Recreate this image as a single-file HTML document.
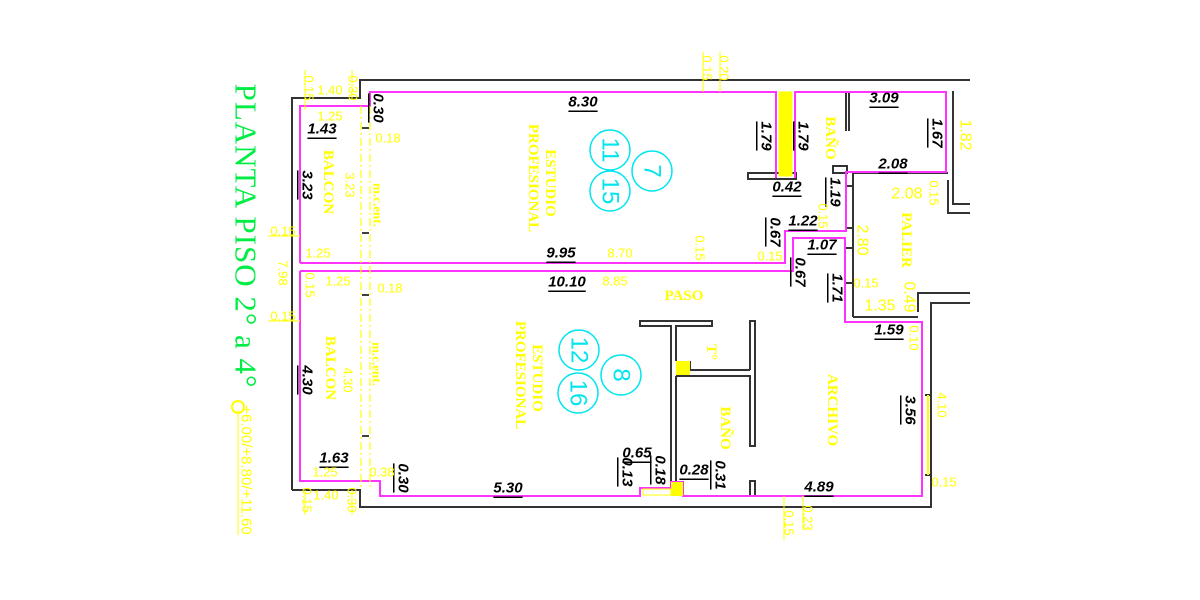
<!DOCTYPE html>
<html><head><meta charset="utf-8"><style>
html,body{margin:0;padding:0;background:#fff;}
svg{display:block}
.b{font-family:"Liberation Sans",sans-serif;font-style:italic;font-weight:bold;font-size:15px;fill:#000;text-decoration:underline}
.y{font-family:"Liberation Sans",sans-serif;font-size:13px;fill:#ffff00}
.ys{font-family:"Liberation Serif",serif;font-weight:bold;font-size:15px;fill:#ffff00}
.c{font-family:"Liberation Sans",sans-serif;font-size:24px;fill:#00e5ee}
</style></head><body>
<svg width="1200" height="600" viewBox="0 0 1200 600" xmlns="http://www.w3.org/2000/svg">
<rect width="1200" height="600" fill="#fff"/>
<g fill="none" stroke="#333" stroke-width="2">
<polyline points="292,490 292,98 360,98 360,80 970,80"/>
<polyline points="292,490 360,490 360,507 931,507 931,303 970,303"/>
<polyline points="918,312 918,293 970,293"/>
<polyline points="953,91 953,204 970,204"/>
<polyline points="948,180 948,213 970,213"/>
<polyline points="853,317 853,173 948,173"/>
<line x1="853" y1="317" x2="918" y2="317"/>
<line x1="846" y1="92" x2="846" y2="131"/>
<line x1="849" y1="92" x2="849" y2="131"/>
<rect x="748" y="173" width="48" height="6"/>
<rect x="833" y="166" width="14" height="7"/>
<line x1="846" y1="186" x2="853" y2="186"/>
<line x1="846" y1="228" x2="853" y2="228"/>
<line x1="846" y1="248" x2="853" y2="248"/>
<line x1="846" y1="283" x2="853" y2="283"/>
<polyline points="671,481 671,326 640,326 640,321 712,321 712,326 676,326 676,361"/>
<polyline points="676,376 676,481"/>
<polyline points="690,361 690,370 750,370"/>
<polyline points="676,376 750,376 750,446 755,446 755,321 750,321 750,370"/>
<rect x="750" y="481" width="5" height="15"/>
<line x1="931" y1="395" x2="925" y2="395"/>
<line x1="931" y1="475" x2="925" y2="475"/>
</g>
<g fill="none" stroke="#ff33ff" stroke-width="2">
<polyline points="300,263 300,106 370,106 370,92 776,92 776,178"/>
<polyline points="795,178 795,92 946,92 946,172 846,172 846,231 785,231 785,263 300,263"/>
<polyline points="300,271 300,481 380,481 380,496 640,496 640,488 671,488 671,482 683,482 683,496 922,496 922,322 845,322 845,238 793,238 793,271 300,271"/>
</g>
<rect x="779" y="92" width="13" height="84" fill="#ffff00" stroke="#ffff00"/>
<rect x="676" y="361" width="14" height="14" fill="#ffff00"/>
<rect x="671" y="482" width="12" height="14" fill="#ffff00"/>
<rect x="643" y="489" width="28" height="6" fill="none" stroke="#ffff00"/>
<line x1="928" y1="395" x2="928" y2="475" stroke="#ffff00" stroke-width="2"/>
<g stroke="#ffff00" stroke-width="1.2" stroke-dasharray="8,3,2,3">
<line x1="361" y1="106" x2="361" y2="490"/>
<line x1="370" y1="106" x2="370" y2="490"/>
</g>
<g stroke="#000" stroke-width="1.5">
<line x1="362" y1="128" x2="369" y2="128"/><line x1="362" y1="233" x2="369" y2="233"/>
<line x1="362" y1="295" x2="369" y2="295"/><line x1="362" y1="436" x2="369" y2="436"/>
</g>
<g stroke="#ffff00" stroke-width="1">
<line x1="305" y1="70" x2="305" y2="110"/><line x1="352" y1="70" x2="352" y2="100"/>
<line x1="703" y1="52" x2="703" y2="92"/><line x1="720" y1="52" x2="720" y2="92"/>
<line x1="268" y1="236" x2="300" y2="236"/><line x1="268" y1="321" x2="300" y2="321"/>
<line x1="305" y1="490" x2="305" y2="515"/><line x1="352" y1="490" x2="352" y2="515"/>
<line x1="784" y1="496" x2="784" y2="540"/><line x1="803" y1="496" x2="803" y2="530"/>
<line x1="238" y1="410" x2="238" y2="535"/>
</g>
<circle cx="238" cy="407" r="6" fill="none" stroke="#ffff00" stroke-width="2"/>
<g fill="none" stroke="#00e5ee" stroke-width="1.5">
<circle cx="610" cy="150" r="20"/><circle cx="610" cy="191" r="20"/><circle cx="652" cy="171" r="20"/>
<circle cx="579" cy="350" r="20"/><circle cx="578" cy="393" r="20"/><circle cx="621" cy="375" r="20"/>
</g>
<g text-anchor="middle" dominant-baseline="central">
<text class="c" transform="translate(610,150) rotate(90)">11</text>
<text class="c" transform="translate(610,191) rotate(90)">15</text>
<text class="c" transform="translate(652,171) rotate(90)">7</text>
<text class="c" transform="translate(579,350) rotate(90)">12</text>
<text class="c" transform="translate(578,393) rotate(90)">16</text>
<text class="c" transform="translate(621,375) rotate(90)">8</text>
<text transform="translate(246,236) rotate(90)" style="font-family:'Liberation Serif',serif;font-size:31px;fill:#00ee44;letter-spacing:1px">PLANTA  PISO  2°  a  4°</text>
<text class="y" style="font-size:15px" transform="translate(246,470) rotate(90)">+6.00/+8.80/+11.60</text>
<text class="ys" transform="translate(328,182) rotate(90)">BALCON</text>
<text class="ys" transform="translate(330,368) rotate(90)">BALCON</text>
<text class="ys" transform="translate(550,183) rotate(90)">ESTUDIO</text>
<text class="ys" transform="translate(533,178) rotate(90)">PROFESIONAL</text>
<text class="ys" transform="translate(537,378) rotate(90)">ESTUDIO</text>
<text class="ys" transform="translate(520,375) rotate(90)">PROFESIONAL</text>
<text class="ys" transform="translate(830,138) rotate(90)">BAÑO</text>
<text class="ys" transform="translate(906,240) rotate(90)">PALIER</text>
<text class="ys" x="684" y="296">PASO</text>
<text class="ys" transform="translate(711,352) rotate(90)">T°</text>
<text class="ys" transform="translate(725,428) rotate(90)">BAÑO</text>
<text class="ys" transform="translate(832,410) rotate(90)">ARCHIVO</text>
<text class="ys" style="font-size:13px" transform="translate(378,205) rotate(90)">m.c.ent.</text>
<text class="ys" style="font-size:13px" transform="translate(377,364) rotate(90)">m.c.ent.</text>
<text class="b" x="583" y="102">8.30</text>
<text class="b" x="322" y="129">1.43</text>
<text class="b" x="884" y="98">3.09</text>
<text class="b" x="893" y="164">2.08</text>
<text class="b" x="787" y="187">0.42</text>
<text class="b" x="803" y="221">1.22</text>
<text class="b" x="822" y="245">1.07</text>
<text class="b" x="889" y="330">1.59</text>
<text class="b" x="561" y="253">9.95</text>
<text class="b" x="567" y="282">10.10</text>
<text class="b" x="334" y="458">1.63</text>
<text class="b" x="508" y="488">5.30</text>
<text class="b" x="637" y="453">0.65</text>
<text class="b" x="694" y="470">0.28</text>
<text class="b" x="819" y="487">4.89</text>
<text class="b" transform="translate(378,108) rotate(90)">0.30</text>
<text class="b" transform="translate(307,185) rotate(90)">3.23</text>
<text class="b" transform="translate(766,136) rotate(90)">1.79</text>
<text class="b" transform="translate(803,136) rotate(90)">1.79</text>
<text class="b" transform="translate(937,133) rotate(90)">1.67</text>
<text class="b" transform="translate(835,192) rotate(90)">1.19</text>
<text class="b" transform="translate(775,232) rotate(90)">0.67</text>
<text class="b" transform="translate(800,272) rotate(90)">0.67</text>
<text class="b" transform="translate(837,288) rotate(90)">1.71</text>
<text class="b" transform="translate(307,380) rotate(90)">4.30</text>
<text class="b" transform="translate(910,410) rotate(90)">3.56</text>
<text class="b" transform="translate(403,478) rotate(90)">0.30</text>
<text class="b" transform="translate(627,472) rotate(90)">0.13</text>
<text class="b" transform="translate(660,470) rotate(90)">0.18</text>
<text class="b" transform="translate(720,475) rotate(90)">0.31</text>
<text class="y" x="330" y="90">1.40</text>
<text class="y" x="330" y="116">1.25</text>
<text class="y" x="388" y="138">0.18</text>
<text class="y" style="font-size:16px" x="907" y="194">2.08</text>
<text class="y" x="770" y="256">0.15</text>
<text class="y" x="866" y="283">0.15</text>
<text class="y" style="font-size:16px" x="880" y="306">1.35</text>
<text class="y" x="620" y="253">8.70</text>
<text class="y" x="318" y="253">1.25</text>
<text class="y" x="338" y="281">1.25</text>
<text class="y" x="390" y="288">0.18</text>
<text class="y" x="615" y="281">8.85</text>
<text class="y" x="283" y="231">0.15</text>
<text class="y" x="283" y="316">0.15</text>
<text class="y" x="325" y="472">1.25</text>
<text class="y" x="382" y="472">0.38</text>
<text class="y" x="326" y="495">1.40</text>
<text class="y" x="944" y="482">0.15</text>
<text class="y" transform="translate(309,88) rotate(90)">0.15</text>
<text class="y" transform="translate(353,88) rotate(90)">0.30</text>
<text class="y" transform="translate(707,68) rotate(90)">0.15</text>
<text class="y" transform="translate(724,68) rotate(90)">0.20</text>
<text class="y" transform="translate(350,185) rotate(90)">3.23</text>
<text class="y" style="font-size:16px" transform="translate(965,135) rotate(90)">1.82</text>
<text class="y" transform="translate(934,193) rotate(90)">0.15</text>
<text class="y" transform="translate(823,216) rotate(90)">0.15</text>
<text class="y" style="font-size:16px" transform="translate(862,240) rotate(90)">2.80</text>
<text class="y" style="font-size:16px" transform="translate(909,297) rotate(90)">0.49</text>
<text class="y" transform="translate(914,338) rotate(90)">0.10</text>
<text class="y" transform="translate(700,248) rotate(90)">0.15</text>
<text class="y" transform="translate(283,273) rotate(90)">7.98</text>
<text class="y" transform="translate(310,285) rotate(90)">0.15</text>
<text class="y" transform="translate(348,380) rotate(90)">4.30</text>
<text class="y" transform="translate(942,405) rotate(90)">4.10</text>
<text class="y" transform="translate(307,500) rotate(90)">0.15</text>
<text class="y" transform="translate(352,500) rotate(90)">0.30</text>
<text class="y" transform="translate(789,523) rotate(90)">0.15</text>
<text class="y" transform="translate(808,518) rotate(90)">0.23</text>
</g>
</svg>
</body></html>
